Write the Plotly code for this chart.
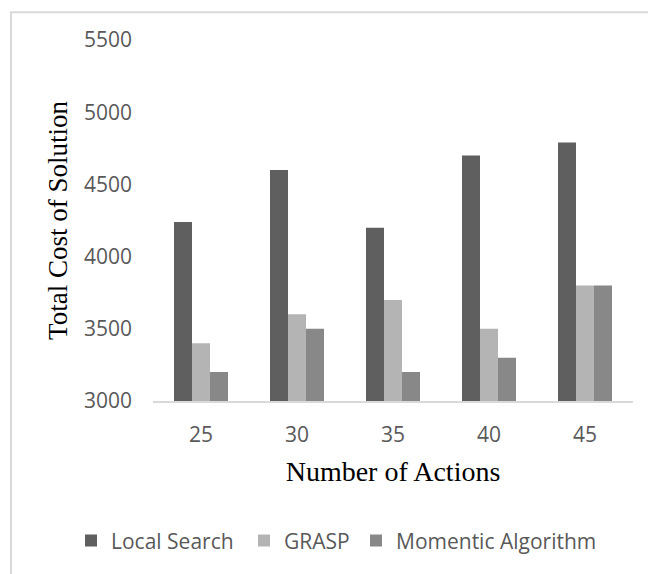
import plotly.graph_objects as go

categories = ["25", "30", "35", "40", "45"]
local_search = [4240, 4600, 4200, 4700, 4790]
grasp = [3400, 3600, 3700, 3500, 3800]
momentic = [3200, 3500, 3200, 3300, 3800]
series_names = ["Local Search", "GRASP", "Momentic Algorithm"]
y_ticks = [3000, 3500, 4000, 4500, 5000, 5500]

colors = ["#5f5f5f", "#b4b4b4", "#888888"]
legend_ids = ["legend", "legend2", "legend3"]

W, H = 648, 574
L, R, T, B = 153, 15, 40, 170
pw, ph = W - L - R, H - T - B

def px_x(p):
    return (p - L) / pw

def px_y(p):
    return (H - B - p) / ph

fig = go.Figure()
for name, vals, col, lg in zip(series_names, [local_search, grasp, momentic], colors, legend_ids):
    fig.add_trace(go.Bar(x=categories, y=vals, name=name, marker=dict(color=col, line=dict(width=0)),
                         legend=lg, showlegend=True))

tick_font = dict(family="Open Sans, sans-serif", size=21, color="#595959")
leg_font = dict(family="Open Sans, sans-serif", size=21, color="#595959")

legend_common = dict(orientation="h", yanchor="middle", xanchor="left", font=leg_font,
                     bgcolor="rgba(0,0,0,0)", itemwidth=30, y=px_y(545))

fig.update_layout(
    width=W, height=H,
    margin=dict(l=L, r=R, t=T, b=B),
    paper_bgcolor="white", plot_bgcolor="white",
    showlegend=True,
    barmode="group", bargap=0.4375, bargroupgap=0,
    legend=dict(legend_common, x=px_x(71)),
    legend2=dict(legend_common, x=px_x(244)),
    legend3=dict(legend_common, x=px_x(356)),
    xaxis=dict(
        type="category", showgrid=False, showline=True, linecolor="#d9d9d9", linewidth=2,
        ticks="", tickfont=tick_font, ticklabelstandoff=14,
        title=dict(text="Number of Actions", font=dict(family="Liberation Serif, Times New Roman, serif", size=28, color="black"), standoff=14),
    ),
    yaxis=dict(
        range=[3000, 5500], tickvals=y_ticks, showgrid=False, showline=False, zeroline=False,
        ticks="", tickfont=tick_font, ticklabelstandoff=20,
        title=dict(text="Total Cost of Solution", font=dict(family="Liberation Serif, Times New Roman, serif", size=27, color="black"), standoff=8),
    ),
    shapes=[dict(type="rect", xref="paper", yref="paper",
                 x0=px_x(11), x1=px_x(W + 20), y0=px_y(H + 20), y1=px_y(12),
                 line=dict(color="#d9d9d9", width=2), fillcolor="rgba(0,0,0,0)", layer="below")],
)

fig.write_html("out.html", config={"displayModeBar": False},
               post_script="document.body.style.margin='0';document.body.style.overflow='hidden';")
